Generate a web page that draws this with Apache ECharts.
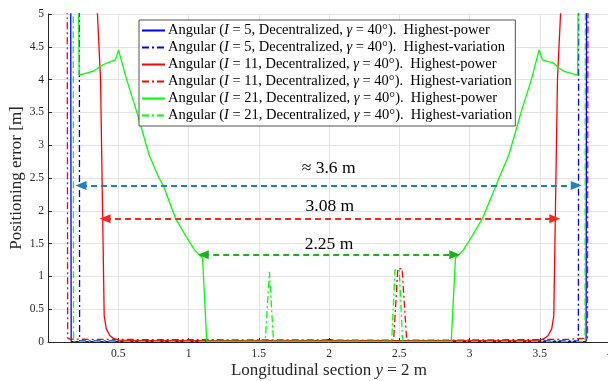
<!DOCTYPE html>
<html>
<head>
<meta charset="utf-8">
<script src="https://cdn.jsdelivr.net/npm/echarts@6/dist/echarts.min.js"></script>
<style>
  html, body { margin: 0; padding: 0; background: #fff; }
  #curve { width: 608px; height: 381px; }
</style>
</head>
<body>
<div id="curve"></div>
<script>
// 数据：每条曲线的 x / y (m)
var i5hpX = [0.10, 0.160, 0.165, 0.5, 1.0, 1.5, 1.95, 2.0, 2.05, 2.5, 3.0, 3.5, 3.830, 3.835, 3.90];
var i5hpY = [8, 8, 0.01, 0.005, 0.005, 0.005, 0.008, 0.04, 0.008, 0.005, 0.005, 0.005, 0.01, 8, 8];

var i5hvX = [0.10, 0.222, 0.225, 1.0, 2.0, 3.0, 3.775, 3.778, 3.90];
var i5hvY = [8, 8, 0.015, 0.015, 0.02, 0.015, 0.015, 8, 8];

var i11hpX = [0.33, 0.374, 0.40, 0.415, 0.44, 0.47, 0.50, 0.60, 1.0, 2.0, 3.0, 3.40, 3.50, 3.53, 3.56, 3.585, 3.60, 3.626, 3.67];
var i11hpY = [6, 4.0, 0.4, 0.2, 0.1, 0.05, 0.03, 0.02, 0.02, 0.02, 0.02, 0.02, 0.03, 0.05, 0.1, 0.2, 0.4, 4.0, 6];

var i11hvX = [0.10, 0.135, 0.140, 0.16, 0.30, 1.0, 2.0, 2.46, 2.49, 2.52, 2.553, 3.0, 3.70, 3.84, 3.845, 3.90];
var i11hvY = [8, 8, 0.06, 0.045, 0.04, 0.035, 0.03, 0.03, 1.12, 1.12, 0.03, 0.03, 0.04, 0.06, 8, 8];

var i21hpX = [0.10, 0.205, 0.222, 0.325, 0.36, 0.395, 0.443, 0.479, 0.502, 0.56, 0.633, 0.72, 0.79, 0.82, 0.909, 0.98, 1.044, 1.10, 1.13,
              1.5, 2.0, 2.5, 2.87, 2.90, 2.956, 3.02, 3.091, 3.19, 3.21, 3.28, 3.367, 3.44, 3.495, 3.52, 3.60, 3.64, 3.68, 3.770, 3.780, 3.90];
var i21hpY = [8, 8, 4.07, 4.13, 4.18, 4.23, 4.27, 4.30, 4.45, 4.0, 3.5, 2.85, 2.5, 2.39, 1.88, 1.62, 1.4, 1.28, 0.01,
              0.01, 0.01, 0.01, 0.01, 1.28, 1.4, 1.62, 1.88, 2.39, 2.5, 2.85, 3.5, 4.0, 4.45, 4.30, 4.25, 4.17, 4.12, 4.07, 8, 8];

var i21hvX = [0.10, 0.178, 0.182, 0.5, 1.0, 1.546, 1.576, 1.605, 2.0, 2.446, 2.47, 2.50, 2.524, 3.0, 3.5, 3.822, 3.826, 3.90];
var i21hvY = [8, 8, 0.01, 0.01, 0.01, 0.01, 1.07, 0.01, 0.01, 0.01, 1.1, 1.1, 0.01, 0.01, 0.01, 0.01, 8, 8];

// 箭头标注：[x起点, x终点, y, 文本]
var spanBlue = [0.235, 3.76, 2.386, '≈ 3.6 m'];
var spanRed = [0.406, 3.607, 1.88, '3.08 m'];
var spanGreen = [1.105, 2.895, 1.33, '2.25 m'];

var legendNames = ['I5hp', 'I5hv', 'I11hp', 'I11hv', 'I21hp', 'I21hv'];
var legendI = ['5', '5', '11', '11', '21', '21'];
var legendMode = ['Highest-power', 'Highest-variation', 'Highest-power', 'Highest-variation', 'Highest-power', 'Highest-variation'];

var serif = 'Liberation Serif';
var dashDot = [7, 3, 2, 3];

function pairs(xs, ys) {
    return xs.map(function (x, i) { return [x, ys[i]]; });
}

function curve(name, xs, ys, color, type) {
    return {
        name: name,
        type: 'line',
        data: pairs(xs, ys),
        symbol: 'none',
        clip: true,
        lineStyle: { color: color, width: 1.3, type: type },
        itemStyle: { color: color }
    };
}

function arrow(span, color, dist) {
    return {
        silent: true,
        symbol: ['triangle', 'triangle'],
        symbolSize: [9, 11],
        lineStyle: { color: color, width: 2, type: [6, 4] },
        label: {
            show: true,
            position: 'insideMiddleTop',
            distance: dist,
            formatter: span[3],
            fontFamily: serif,
            fontSize: 17.5,
            color: '#000'
        },
        data: [[{ coord: [span[0], span[2]] }, { coord: [span[1], span[2]] }]]
    };
}

var myChart = echarts.init(document.getElementById('curve'));

var series = [
    curve('I5hp', i5hpX, i5hpY, '#0000ff', 'solid'),
    curve('I5hv', i5hvX, i5hvY, '#0000ff', dashDot),
    curve('I11hp', i11hpX, i11hpY, '#ff0000', 'solid'),
    curve('I11hv', i11hvX, i11hvY, '#ff0000', dashDot),
    curve('I21hp', i21hpX, i21hpY, '#00ff00', 'solid'),
    curve('I21hv', i21hvX, i21hvY, '#00ff00', dashDot)
];
// 箭头挂在几条曲线上
series[0].markLine = arrow(spanBlue, '#1f7fc0', 8);
series[2].markLine = arrow(spanRed, '#f52a1e', 3);
series[4].markLine = arrow(spanGreen, '#1fae1f', 1);

var option = {
    animation: false,
    backgroundColor: '#fff',
    grid: { left: 48, top: 14, bottom: 39, width: 562, outerBoundsMode: 'none' },
    legend: {
        orient: 'vertical',
        left: 139,
        top: 20,
        data: legendNames,
        itemWidth: 23,
        itemHeight: 12,
        itemGap: 2.0,
        padding: [3, 3, 3, 2],
        backgroundColor: '#fff',
        borderColor: '#262626',
        borderWidth: 0.8,
        borderRadius: 0,
        itemStyle: { opacity: 0 },
        formatter: function (name) {
            var k = legendNames.indexOf(name);
            return 'Angular ({it|I} = ' + legendI[k] + ', Decentralized, {it|γ} = 40°).  ' + legendMode[k];
        },
        textStyle: {
            fontFamily: serif,
            fontSize: 14.5,
            lineHeight: 14,
            color: '#000',
            padding: [0, 0, 0, -2],
            rich: {
                it: { fontFamily: serif, fontSize: 14.5, lineHeight: 14, fontStyle: 'italic', color: '#000' }
            }
        }
    },
    xAxis: {
        type: 'value',
        min: 0,
        max: 4,
        interval: 0.5,
        name: 'Longitudinal section {it|y} = 2 m',
        nameLocation: 'middle',
        nameGap: 20,
        nameMoveOverlap: false,
        nameTextStyle: {
            fontFamily: serif, fontSize: 17, color: '#262626',
            rich: { it: { fontFamily: serif, fontSize: 17, fontStyle: 'italic', color: '#262626' } }
        },
        axisLine: { show: true, lineStyle: { color: '#262626', width: 1 } },
        axisTick: { show: true, inside: true, length: 4, lineStyle: { color: '#262626' } },
        axisLabel: {
            fontFamily: serif, fontSize: 11.5, color: '#262626', margin: 6,
            formatter: function (v) { return v === 0 ? '' : String(v); }
        },
        splitLine: { show: true, lineStyle: { color: '#e3e3e3', width: 1 } }
    },
    yAxis: {
        type: 'value',
        min: 0,
        max: 5,
        interval: 0.5,
        name: 'Positioning error [m]',
        nameLocation: 'middle',
        nameGap: 23,
        nameMoveOverlap: false,
        nameTextStyle: { fontFamily: serif, fontSize: 17, color: '#262626' },
        axisLine: { show: true, lineStyle: { color: '#262626', width: 1 } },
        axisTick: { show: true, inside: true, length: 4, lineStyle: { color: '#262626' } },
        axisLabel: { fontFamily: serif, fontSize: 11.5, color: '#262626', margin: 4 },
        splitLine: { show: true, lineStyle: { color: '#e3e3e3', width: 1 } }
    },
    series: series
};
myChart.setOption(option);
</script>
</body>
</html>
